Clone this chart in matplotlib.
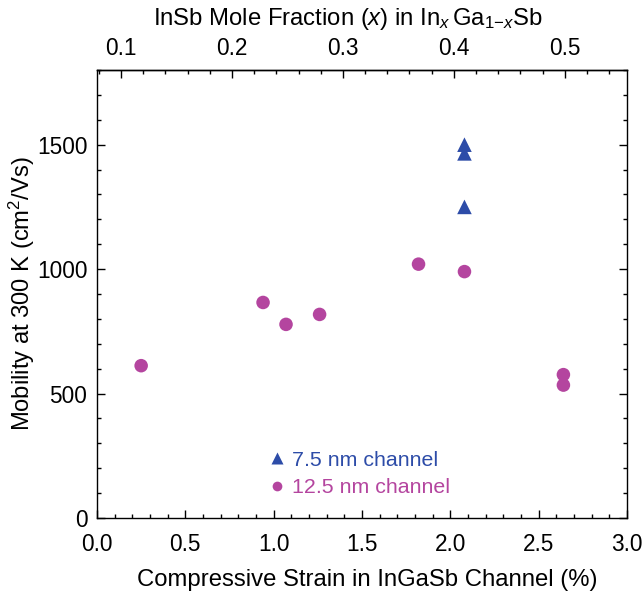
import matplotlib
matplotlib.use("Agg")
import matplotlib.pyplot as plt
from matplotlib.lines import Line2D
from matplotlib.ticker import MultipleLocator, FormatStrFormatter

# channel mobility vs. compressive strain
strain_75 = [2.08, 2.08, 2.08]
mobility_75 = [1500, 1465, 1250]

strain_125 = [0.25, 0.94, 1.07, 1.26, 1.82, 2.08, 2.64, 2.64]
mobility_125 = [612, 866, 778, 818, 1020, 990, 576, 534]

labels = ["7.5 nm channel", "12.5 nm channel"]
mole_ticks = [0.1, 0.2, 0.3, 0.4, 0.5]

BLUE = "#2d4ca8"
MAGENTA = "#b4459f"

plt.rcParams.update({
    "font.family": "Liberation Sans",
    "font.size": 16.3,
    "mathtext.fontset": "custom",
    "mathtext.rm": "Liberation Sans",
    "mathtext.it": "Liberation Sans:italic",
    "axes.linewidth": 1.0,
})


# strain (%) <-> InSb mole fraction
def strain_to_x(s):
    return (s + 0.492) / 6.28


def x_to_strain(x):
    return x * 6.28 - 0.492


fig = plt.figure(figsize=(6.44, 5.98), dpi=100)
ax = fig.add_axes([0.1506, 0.1338, 0.8230, 0.7491])

ax.scatter(strain_125, mobility_125, s=95, marker="o", color=MAGENTA,
           edgecolors="none", zorder=3)
ax.scatter(strain_75, mobility_75, s=110, marker="^", color=BLUE,
           edgecolors="none", zorder=3)

ax.set_xlim(0, 3.0)
ax.set_ylim(0, 1800)
ax.xaxis.set_major_locator(MultipleLocator(0.5))
ax.xaxis.set_minor_locator(MultipleLocator(0.1))
ax.yaxis.set_major_locator(MultipleLocator(500))
ax.yaxis.set_minor_locator(MultipleLocator(100))
ax.xaxis.set_major_formatter(FormatStrFormatter("%.1f"))
ax.tick_params(which="both", direction="in", right=True, width=1.0)
ax.tick_params(which="major", length=6, pad=7)
ax.tick_params(which="minor", length=3)
ax.tick_params(axis="x", which="major", pad=10.5)

ax.set_xlabel("Compressive Strain in InGaSb Channel (%)", fontsize=17.2,
              labelpad=10)
ax.xaxis.label.set_x(0.51)
ax.set_ylabel("Mobility at 300 K (cm$^2$/Vs)", fontsize=17.1, labelpad=0)

top = ax.secondary_xaxis("top", functions=(strain_to_x, x_to_strain))
top.set_xticks(mole_ticks)
top.xaxis.set_minor_locator(MultipleLocator(0.02))
top.xaxis.set_major_formatter(FormatStrFormatter("%.1f"))
top.tick_params(which="both", direction="in", width=1.0)
top.tick_params(which="major", length=6, pad=7)
top.tick_params(which="minor", length=3)
top.set_xlabel("InSb Mole Fraction ($x$) in In$_x\\,$Ga$_{1\\mathrm{-}x}$Sb",
               fontsize=17.2, labelpad=9)
top.xaxis.label.set_x(0.474)

handles = [
    Line2D([], [], ls="none", marker="^", ms=8, color=BLUE, mec="none"),
    Line2D([], [], ls="none", marker="o", ms=7, color=MAGENTA, mec="none"),
]
leg = ax.legend(handles, labels, loc="upper left", bbox_to_anchor=(0.31, 0.169),
                frameon=False, handlelength=0.7, handletextpad=0.35,
                labelspacing=0.4, borderaxespad=0, fontsize=15.4)
for txt, col in zip(leg.get_texts(), [BLUE, MAGENTA]):
    txt.set_color(col)

fig.savefig("out.png", dpi=100)
